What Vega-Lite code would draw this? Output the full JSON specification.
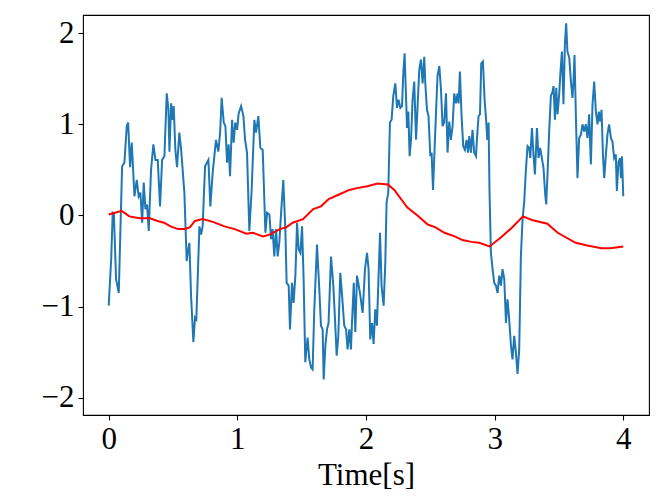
{
  "$schema": "https://vega.github.io/schema/vega-lite/v6.json",
  "autosize": {"type": "none"},
  "padding": {"left": 83, "top": 15, "right": 15, "bottom": 83},
  "width": 566,
  "height": 400,
  "datasets": {
    "signal": [
      {"t": 0.000, "v": -0.99}, {"t": 0.019, "v": -0.48}, {"t": 0.031, "v": 0.03}, {"t": 0.040, "v": 0.02},
      {"t": 0.057, "v": -0.70}, {"t": 0.078, "v": -0.85}, {"t": 0.104, "v": 0.54}, {"t": 0.122, "v": 0.58},
      {"t": 0.140, "v": 0.98}, {"t": 0.151, "v": 1.02}, {"t": 0.166, "v": 0.53}, {"t": 0.179, "v": 0.80},
      {"t": 0.200, "v": 0.21}, {"t": 0.218, "v": 0.39}, {"t": 0.233, "v": 0.21}, {"t": 0.246, "v": 0.25},
      {"t": 0.260, "v": -0.08}, {"t": 0.272, "v": 0.36}, {"t": 0.285, "v": 0.07}, {"t": 0.298, "v": 0.12},
      {"t": 0.311, "v": -0.17}, {"t": 0.329, "v": 0.50}, {"t": 0.347, "v": 0.78}, {"t": 0.363, "v": 0.61},
      {"t": 0.381, "v": 0.61}, {"t": 0.399, "v": 0.10}, {"t": 0.415, "v": 0.61}, {"t": 0.433, "v": 0.65},
      {"t": 0.451, "v": 1.34}, {"t": 0.464, "v": 1.16}, {"t": 0.472, "v": 0.70}, {"t": 0.485, "v": 1.23},
      {"t": 0.497, "v": 1.05}, {"t": 0.505, "v": 1.20}, {"t": 0.518, "v": 0.72}, {"t": 0.531, "v": 0.53},
      {"t": 0.549, "v": 0.91}, {"t": 0.563, "v": 0.72}, {"t": 0.588, "v": 0.25}, {"t": 0.606, "v": -0.50},
      {"t": 0.614, "v": -0.41}, {"t": 0.627, "v": -0.30}, {"t": 0.640, "v": -0.88}, {"t": 0.658, "v": -1.39},
      {"t": 0.671, "v": -1.12}, {"t": 0.681, "v": -1.14}, {"t": 0.705, "v": -0.12}, {"t": 0.718, "v": -0.21},
      {"t": 0.730, "v": -0.12}, {"t": 0.749, "v": 0.54}, {"t": 0.775, "v": 0.61}, {"t": 0.790, "v": 0.10},
      {"t": 0.808, "v": 0.47}, {"t": 0.834, "v": 0.83}, {"t": 0.852, "v": 0.70}, {"t": 0.866, "v": 0.91},
      {"t": 0.878, "v": 1.29}, {"t": 0.894, "v": 1.02}, {"t": 0.907, "v": 0.98}, {"t": 0.920, "v": 0.58},
      {"t": 0.932, "v": 0.78}, {"t": 0.943, "v": 0.43}, {"t": 0.959, "v": 1.05}, {"t": 0.971, "v": 0.80},
      {"t": 0.984, "v": 1.02}, {"t": 0.998, "v": 0.94}, {"t": 1.010, "v": 1.12}, {"t": 1.029, "v": 1.20},
      {"t": 1.047, "v": 1.09}, {"t": 1.060, "v": 0.83}, {"t": 1.075, "v": 0.69}, {"t": 1.093, "v": -0.17},
      {"t": 1.111, "v": 0.28}, {"t": 1.132, "v": 1.05}, {"t": 1.145, "v": 0.91}, {"t": 1.163, "v": 1.09},
      {"t": 1.179, "v": 0.74}, {"t": 1.197, "v": 0.72}, {"t": 1.218, "v": -0.19}, {"t": 1.231, "v": 0.03},
      {"t": 1.249, "v": 0.01}, {"t": 1.262, "v": -0.26}, {"t": 1.274, "v": -0.15}, {"t": 1.287, "v": -0.45},
      {"t": 1.301, "v": -0.15}, {"t": 1.313, "v": -0.45}, {"t": 1.326, "v": -0.30}, {"t": 1.340, "v": 0.03},
      {"t": 1.357, "v": 0.39}, {"t": 1.373, "v": -0.15}, {"t": 1.383, "v": -0.74}, {"t": 1.399, "v": -0.77},
      {"t": 1.409, "v": -1.25}, {"t": 1.425, "v": -0.74}, {"t": 1.437, "v": -0.96}, {"t": 1.451, "v": -0.66},
      {"t": 1.464, "v": -0.08}, {"t": 1.476, "v": -0.37}, {"t": 1.490, "v": -0.41}, {"t": 1.503, "v": -0.12},
      {"t": 1.515, "v": -0.70}, {"t": 1.528, "v": -1.61}, {"t": 1.546, "v": -1.34}, {"t": 1.559, "v": -1.58},
      {"t": 1.573, "v": -1.67}, {"t": 1.585, "v": -1.69}, {"t": 1.598, "v": -1.03}, {"t": 1.619, "v": -0.32},
      {"t": 1.637, "v": -0.81}, {"t": 1.650, "v": -1.21}, {"t": 1.663, "v": -1.25}, {"t": 1.671, "v": -1.80},
      {"t": 1.684, "v": -1.43}, {"t": 1.697, "v": -1.25}, {"t": 1.709, "v": -1.18}, {"t": 1.728, "v": -0.45},
      {"t": 1.746, "v": -0.77}, {"t": 1.759, "v": -1.14}, {"t": 1.772, "v": -1.54}, {"t": 1.785, "v": -1.32},
      {"t": 1.800, "v": -0.63}, {"t": 1.814, "v": -0.88}, {"t": 1.831, "v": -1.21}, {"t": 1.845, "v": -1.25},
      {"t": 1.857, "v": -1.47}, {"t": 1.870, "v": -1.25}, {"t": 1.883, "v": -1.47}, {"t": 1.891, "v": -1.18},
      {"t": 1.905, "v": -0.74}, {"t": 1.917, "v": -1.28}, {"t": 1.930, "v": -0.66}, {"t": 1.940, "v": -0.74},
      {"t": 1.956, "v": -0.88}, {"t": 1.974, "v": -1.07}, {"t": 1.992, "v": -0.59}, {"t": 2.008, "v": -0.41},
      {"t": 2.020, "v": -0.59}, {"t": 2.033, "v": -1.36}, {"t": 2.047, "v": -1.18}, {"t": 2.059, "v": -1.41},
      {"t": 2.072, "v": -1.03}, {"t": 2.085, "v": -1.21}, {"t": 2.096, "v": -0.74}, {"t": 2.109, "v": -0.19},
      {"t": 2.121, "v": -0.77}, {"t": 2.137, "v": -0.99}, {"t": 2.150, "v": -0.52}, {"t": 2.160, "v": 0.14},
      {"t": 2.173, "v": 0.25}, {"t": 2.186, "v": 1.02}, {"t": 2.199, "v": 1.05}, {"t": 2.212, "v": 1.31},
      {"t": 2.228, "v": 1.45}, {"t": 2.241, "v": 1.18}, {"t": 2.253, "v": 1.27}, {"t": 2.267, "v": 1.18},
      {"t": 2.280, "v": 1.20}, {"t": 2.290, "v": 1.56}, {"t": 2.300, "v": 1.78}, {"t": 2.311, "v": 1.31},
      {"t": 2.319, "v": 0.96}, {"t": 2.329, "v": 1.14}, {"t": 2.339, "v": 0.65}, {"t": 2.350, "v": 0.83},
      {"t": 2.362, "v": 1.27}, {"t": 2.375, "v": 1.47}, {"t": 2.389, "v": 0.83}, {"t": 2.401, "v": 1.20},
      {"t": 2.414, "v": 1.60}, {"t": 2.427, "v": 1.71}, {"t": 2.440, "v": 1.45}, {"t": 2.453, "v": 1.74},
      {"t": 2.461, "v": 1.45}, {"t": 2.474, "v": 1.16}, {"t": 2.486, "v": 1.09}, {"t": 2.500, "v": 0.65},
      {"t": 2.510, "v": 0.69}, {"t": 2.521, "v": 0.28}, {"t": 2.531, "v": 0.65}, {"t": 2.544, "v": 1.12},
      {"t": 2.556, "v": 1.53}, {"t": 2.570, "v": 1.64}, {"t": 2.583, "v": 1.38}, {"t": 2.595, "v": 0.98},
      {"t": 2.608, "v": 1.02}, {"t": 2.622, "v": 1.34}, {"t": 2.634, "v": 0.69}, {"t": 2.647, "v": 1.03},
      {"t": 2.660, "v": 0.83}, {"t": 2.673, "v": 0.98}, {"t": 2.686, "v": 1.34}, {"t": 2.699, "v": 1.23},
      {"t": 2.712, "v": 1.34}, {"t": 2.720, "v": 1.23}, {"t": 2.730, "v": 1.58}, {"t": 2.743, "v": 1.09},
      {"t": 2.756, "v": 0.76}, {"t": 2.769, "v": 0.72}, {"t": 2.782, "v": 0.83}, {"t": 2.793, "v": 0.69},
      {"t": 2.803, "v": 0.87}, {"t": 2.816, "v": 0.69}, {"t": 2.828, "v": 0.94}, {"t": 2.841, "v": 0.69},
      {"t": 2.855, "v": 0.65}, {"t": 2.862, "v": 0.83}, {"t": 2.875, "v": 1.09}, {"t": 2.886, "v": 1.11},
      {"t": 2.896, "v": 1.67}, {"t": 2.909, "v": 1.69}, {"t": 2.922, "v": 1.27}, {"t": 2.935, "v": 1.02},
      {"t": 2.943, "v": 0.83}, {"t": 2.953, "v": 1.02}, {"t": 2.960, "v": 0.28}, {"t": 2.971, "v": -0.41},
      {"t": 2.984, "v": -0.59}, {"t": 2.997, "v": -0.74}, {"t": 3.010, "v": -0.77}, {"t": 3.023, "v": -0.85},
      {"t": 3.036, "v": -0.66}, {"t": 3.049, "v": -0.77}, {"t": 3.061, "v": -0.59}, {"t": 3.075, "v": -0.70},
      {"t": 3.088, "v": -1.18}, {"t": 3.100, "v": -0.92}, {"t": 3.113, "v": -1.14}, {"t": 3.127, "v": -1.43},
      {"t": 3.139, "v": -1.58}, {"t": 3.152, "v": -1.32}, {"t": 3.165, "v": -1.50}, {"t": 3.178, "v": -1.74},
      {"t": 3.191, "v": -1.47}, {"t": 3.204, "v": -0.45}, {"t": 3.217, "v": -0.04}, {"t": 3.230, "v": 0.15},
      {"t": 3.243, "v": 0.50}, {"t": 3.256, "v": 0.76}, {"t": 3.269, "v": 0.74}, {"t": 3.277, "v": 0.63},
      {"t": 3.290, "v": 0.96}, {"t": 3.302, "v": 0.67}, {"t": 3.313, "v": 0.45}, {"t": 3.329, "v": 0.96},
      {"t": 3.341, "v": 0.63}, {"t": 3.354, "v": 0.74}, {"t": 3.367, "v": 0.63}, {"t": 3.380, "v": 0.52},
      {"t": 3.393, "v": 0.23}, {"t": 3.401, "v": 0.12}, {"t": 3.411, "v": 0.45}, {"t": 3.424, "v": 0.92},
      {"t": 3.437, "v": 1.31}, {"t": 3.450, "v": 1.36}, {"t": 3.458, "v": 1.42}, {"t": 3.469, "v": 1.05},
      {"t": 3.479, "v": 1.40}, {"t": 3.489, "v": 1.11}, {"t": 3.502, "v": 1.33}, {"t": 3.510, "v": 1.54},
      {"t": 3.523, "v": 1.80}, {"t": 3.535, "v": 1.22}, {"t": 3.546, "v": 1.87}, {"t": 3.556, "v": 2.11},
      {"t": 3.566, "v": 1.80}, {"t": 3.580, "v": 1.73}, {"t": 3.593, "v": 1.47}, {"t": 3.605, "v": 1.29},
      {"t": 3.613, "v": 1.47}, {"t": 3.621, "v": 1.76}, {"t": 3.632, "v": 1.07}, {"t": 3.644, "v": 0.41},
      {"t": 3.657, "v": 0.85}, {"t": 3.671, "v": 0.89}, {"t": 3.683, "v": 1.00}, {"t": 3.696, "v": 0.92},
      {"t": 3.709, "v": 1.00}, {"t": 3.722, "v": 0.85}, {"t": 3.735, "v": 1.11}, {"t": 3.748, "v": 0.56},
      {"t": 3.761, "v": 1.22}, {"t": 3.774, "v": 1.47}, {"t": 3.787, "v": 1.14}, {"t": 3.800, "v": 1.00},
      {"t": 3.810, "v": 1.14}, {"t": 3.821, "v": 1.03}, {"t": 3.831, "v": 1.16}, {"t": 3.842, "v": 0.67},
      {"t": 3.852, "v": 0.41}, {"t": 3.865, "v": 0.67}, {"t": 3.877, "v": 0.89}, {"t": 3.890, "v": 1.00},
      {"t": 3.904, "v": 0.85}, {"t": 3.916, "v": 0.81}, {"t": 3.929, "v": 0.63}, {"t": 3.942, "v": 0.67},
      {"t": 3.950, "v": 0.27}, {"t": 3.963, "v": 0.59}, {"t": 3.975, "v": 0.63}, {"t": 3.982, "v": 0.41},
      {"t": 3.990, "v": 0.65}, {"t": 4.000, "v": 0.21}
    ],
    "smooth": [
      {"t": 0.00, "v": 0.01}, {"t": 0.05, "v": 0.03}, {"t": 0.10, "v": 0.05}, {"t": 0.16, "v": -0.01},
      {"t": 0.24, "v": -0.03}, {"t": 0.32, "v": -0.03}, {"t": 0.38, "v": -0.06}, {"t": 0.43, "v": -0.08},
      {"t": 0.48, "v": -0.12}, {"t": 0.54, "v": -0.15}, {"t": 0.59, "v": -0.15}, {"t": 0.63, "v": -0.13},
      {"t": 0.67, "v": -0.06}, {"t": 0.73, "v": -0.04}, {"t": 0.81, "v": -0.07}, {"t": 0.90, "v": -0.12},
      {"t": 0.98, "v": -0.15}, {"t": 1.07, "v": -0.20}, {"t": 1.12, "v": -0.19}, {"t": 1.20, "v": -0.23},
      {"t": 1.25, "v": -0.21}, {"t": 1.33, "v": -0.15}, {"t": 1.38, "v": -0.13}, {"t": 1.43, "v": -0.08},
      {"t": 1.51, "v": -0.04}, {"t": 1.59, "v": 0.07}, {"t": 1.65, "v": 0.10}, {"t": 1.71, "v": 0.18},
      {"t": 1.79, "v": 0.23}, {"t": 1.87, "v": 0.28}, {"t": 1.93, "v": 0.30}, {"t": 2.01, "v": 0.32},
      {"t": 2.09, "v": 0.35}, {"t": 2.17, "v": 0.34}, {"t": 2.22, "v": 0.28}, {"t": 2.32, "v": 0.09},
      {"t": 2.40, "v": 0.00}, {"t": 2.48, "v": -0.10}, {"t": 2.54, "v": -0.13}, {"t": 2.61, "v": -0.19},
      {"t": 2.69, "v": -0.23}, {"t": 2.75, "v": -0.27}, {"t": 2.82, "v": -0.29}, {"t": 2.88, "v": -0.30},
      {"t": 2.96, "v": -0.34}, {"t": 3.05, "v": -0.24}, {"t": 3.13, "v": -0.14}, {"t": 3.22, "v": -0.01},
      {"t": 3.29, "v": -0.05}, {"t": 3.41, "v": -0.09}, {"t": 3.49, "v": -0.19}, {"t": 3.63, "v": -0.30},
      {"t": 3.72, "v": -0.33}, {"t": 3.83, "v": -0.36}, {"t": 3.90, "v": -0.36}, {"t": 4.00, "v": -0.34}
    ]
  },
  "layer": [
    {
      "data": {"name": "signal"},
      "mark": {"type": "line", "color": "#1f77b4", "strokeWidth": 2, "clip": true},
      "encoding": {
        "x": {"field": "t", "type": "quantitative", "title": "Time[s]",
              "scale": {"domain": [-0.2, 4.2], "nice": false, "zero": false},
              "axis": {"values": [0, 1, 2, 3, 4], "format": "d"}},
        "y": {"field": "v", "type": "quantitative", "title": null,
              "scale": {"domain": [-2.19, 2.2], "nice": false, "zero": false},
              "axis": {"values": [-2, -1, 0, 1, 2], "format": "d"}}
      }
    },
    {
      "data": {"name": "smooth"},
      "mark": {"type": "line", "color": "#ff0000", "strokeWidth": 2, "clip": true},
      "encoding": {
        "x": {"field": "t", "type": "quantitative"},
        "y": {"field": "v", "type": "quantitative"}
      }
    }
  ],
  "config": {
    "view": {"stroke": "#000000", "strokeWidth": 1.1},
    "axis": {
      "grid": false,
      "domain": false,
      "ticks": true,
      "tickColor": "#000000",
      "tickSize": 5,
      "tickWidth": 1.1,
      "labelFont": "Liberation Serif",
      "labelFontSize": 31,
      "labelColor": "#000000",
      "labelPadding": 4,
      "titleFont": "Liberation Serif",
      "titleFontSize": 31,
      "titleFontWeight": "normal",
      "titleColor": "#000000",
      "titlePadding": 6
    }
  }
}
